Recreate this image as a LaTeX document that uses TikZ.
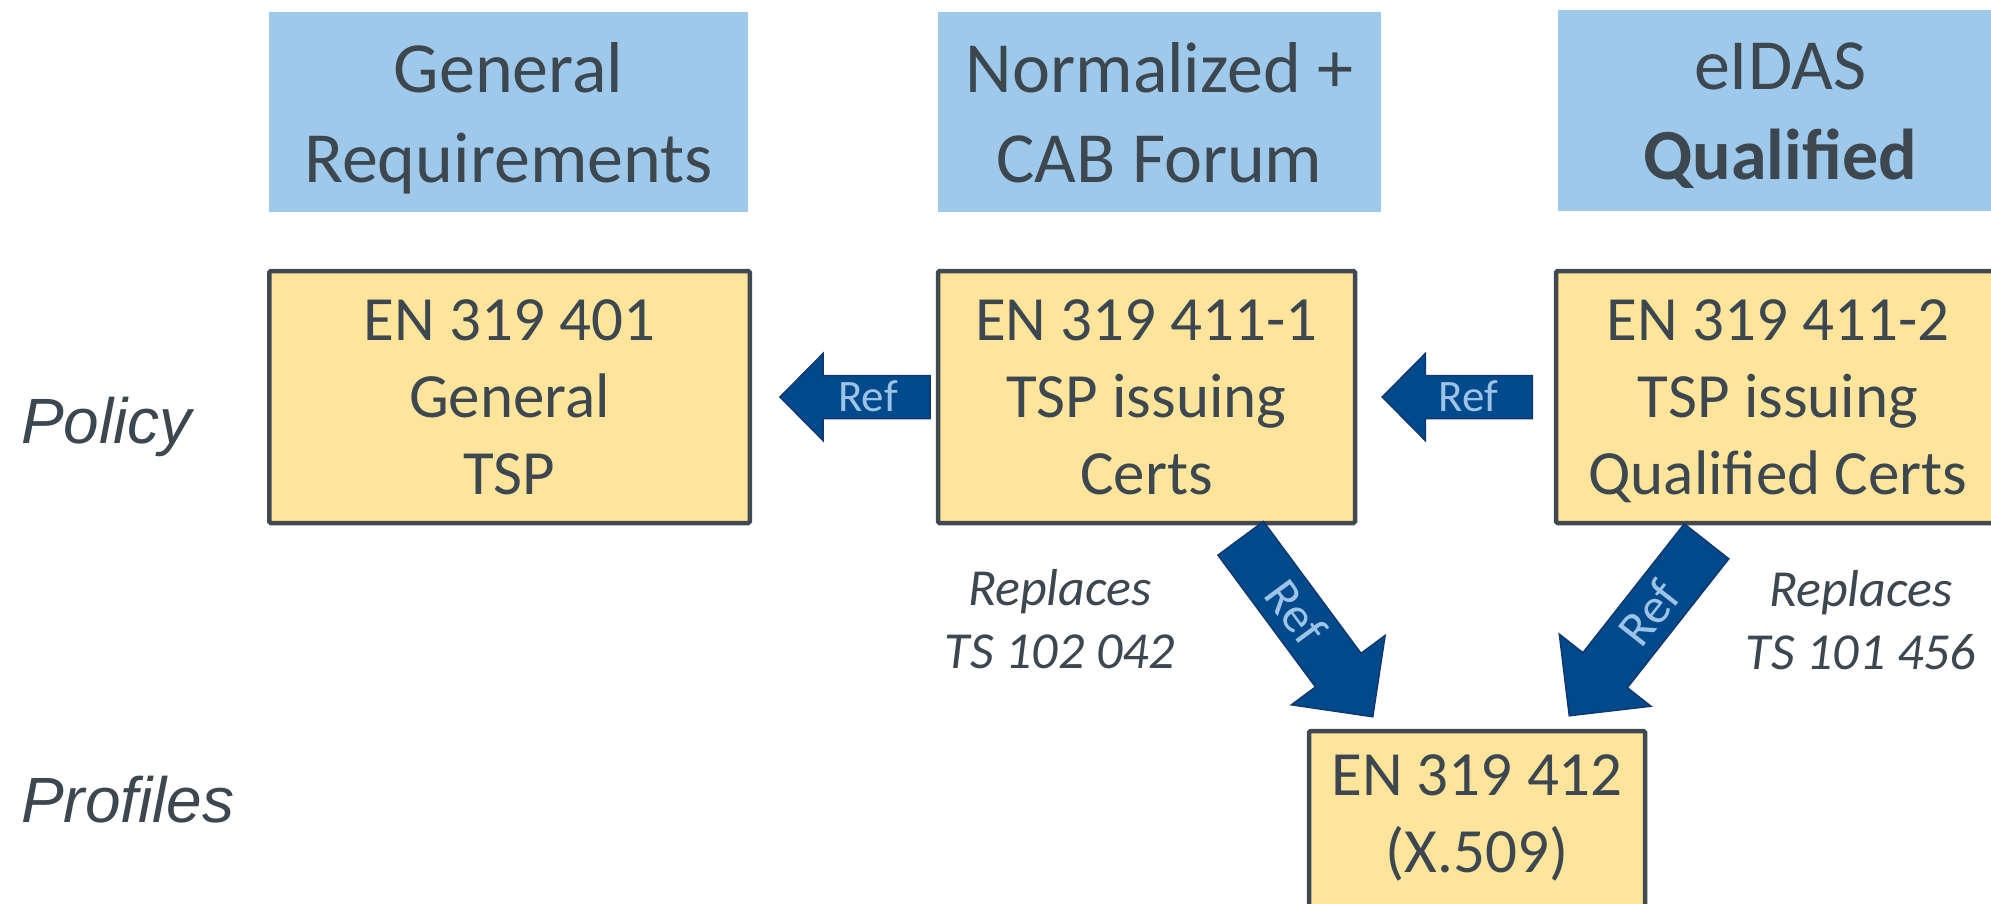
\documentclass[tikz,border=0pt]{standalone}
\usepackage{fontspec}
\setmainfont{Carlito}
\newfontfamily\arialfont{Liberation Sans}
\usetikzlibrary{calc}
\definecolor{headblue}{RGB}{159,201,234}
\definecolor{boxyellow}{RGB}{255,229,156}
\definecolor{boxedge}{RGB}{64,73,81}
\definecolor{textcol}{RGB}{60,71,80}
\definecolor{arrowblue}{RGB}{0,74,140}
\definecolor{arrowedge}{RGB}{16,56,110}
\definecolor{refcol}{RGB}{157,196,232}
\tikzset{
  headbox/.style={fill=headblue, draw=none, inner sep=0pt},
  normbox/.style={fill=boxyellow, draw=boxedge, line width=4.5pt, rounded corners=1.5pt, inner sep=0pt},
  headtext/.style={text=textcol, align=center, inner sep=0pt, font=\fontsize{72}{90}\selectfont},
  boxtext/.style={text=textcol, align=center, inner sep=0pt, font=\fontsize{63}{77}\selectfont},
  notetext/.style={text=textcol, align=center, inner sep=0pt, font=\fontsize{52}{63}\selectfont\itshape},
  sidetext/.style={text=textcol, inner sep=0pt, anchor=base west, font=\arialfont\fontsize{64}{77}\selectfont\itshape},
  arrowshape/.style={fill=arrowblue, draw=arrowedge, line width=1.5pt, line join=miter},
  reftext/.style={text=refcol, inner sep=0pt, text depth=0pt},
}
\begin{document}
\begin{tikzpicture}[x=1pt, y=-1pt]
\useasboundingbox (0,0) rectangle (1991,903);
\fill[white] (0,0) rectangle (1991,903);
\begin{scope}
\clip (0,0) rectangle (1991,903);

% header boxes
\node[headbox, minimum width=479pt, minimum height=200pt] (hb1) at (508.5,112) {};
\node[headbox, minimum width=443pt, minimum height=200pt] (hb2) at (1159.5,112) {};
\node[headbox, minimum width=444pt, minimum height=201pt] (hb3) at (1780,110.5) {};
\node[headtext] (ht1) at ($(hb1.center)+(0,7)$) {\strut General\\\strut Requirements\strut};
\node[headtext] (ht2) at ($(hb2.center)+(0,7)$) {\strut Normalized +\\\strut CAB Forum\strut};
\node[headtext] (ht3) at ($(hb3.center)+(0,5.5)$) {\strut eIDAS\\\strut\textbf{Qualified}\strut};

% standard boxes
\node[normbox, minimum width=480.5pt, minimum height=252pt] (yb1) at (509.5,397) {};
\node[normbox, minimum width=417pt, minimum height=252pt] (yb2) at (1146.5,397) {};
\node[normbox, minimum width=444pt, minimum height=252pt] (yb3) at (1778,397) {};
\node[normbox, minimum width=336pt, minimum height=208pt] (yb4) at (1477,835) {};
\node[boxtext] (yt1) at ($(yb1.center)+(0,4.6)$) {\strut EN 319 401\\\strut General\\\strut TSP\strut};
\node[boxtext] (yt2) at ($(yb2.center)+(0,4.6)$) {\strut EN 319 411-1\\\strut TSP issuing\\\strut Certs\strut};
\node[boxtext] (yt3) at ($(yb3.center)+(0,4.6)$) {\strut EN 319 411-2\\\strut TSP issuing\\\strut Qualified Certs\strut};
\node[boxtext] (yt4) at ($(yb4.north)+(0,90.1)$) {\strut EN 319 412\\\strut (X.509)\strut};

% side labels
\node[sidetext] (pol) at (21,443) {Policy};
\node[sidetext] (pro) at (21,822) {Profiles};

% notes
\node[notetext] (n1) at (1060,623.9) {\strut Replaces\\\strut TS 102 042\strut};
\node[notetext] (n2) at (1861,624.9) {\strut Replaces\\\strut TS 101 456\strut};

% arrow tips
\coordinate (a1tip) at ($(yb1.east)+(28,0)$);
\coordinate (a2tip) at ($(yb2.east)+(25,0)$);
\coordinate (d1tip) at ($(yb4.north west)+(66,-12)$);
\coordinate (d2tip) at ($(yb4.north east)+(-78,-13)$);

% horizontal Ref arrows (pointing left)
\begin{scope}[shift={(a1tip)}]
  \draw[arrowshape] (0,0) -- (43,-43.5) -- (43,-21.5) -- (150,-21.5) -- (150,21.5) -- (43,21.5) -- (43,43.5) -- cycle;
  \node[reftext, text height=29pt, font=\fontsize{45}{54}\selectfont] (r1) at (88,0) {Ref};
\end{scope}
\begin{scope}[shift={(a2tip)}]
  \draw[arrowshape] (0,0) -- (43,-43.5) -- (43,-21.5) -- (150,-21.5) -- (150,21.5) -- (43,21.5) -- (43,43.5) -- cycle;
  \node[reftext, text height=29pt, font=\fontsize{45}{54}\selectfont] (r2) at (86,0) {Ref};
\end{scope}

% diagonal Ref arrows
\begin{scope}[shift={(d1tip)}, rotate=126.5]
  \draw[arrowshape] (0,0) -- (58,-58.3) -- (58,-28.3) -- (222,-28.3) -- (222,28.3) -- (58,28.3) -- (58,58.3) -- cycle;
  \node[reftext, text height=32pt, rotate=-53.5, font=\fontsize{50}{60}\selectfont] (r3) at (130,0) {Ref};
\end{scope}
\begin{scope}[shift={(d2tip)}, rotate=51.8]
  \draw[arrowshape] (0,0) -- (58,-58.3) -- (58,-28.3) -- (222,-28.3) -- (222,28.3) -- (58,28.3) -- (58,58.3) -- cycle;
  \node[reftext, text height=32pt, rotate=51.8, font=\fontsize{50}{60}\selectfont] (r4) at (130,0) {Ref};
\end{scope}

\end{scope}
\end{tikzpicture}
\end{document}
